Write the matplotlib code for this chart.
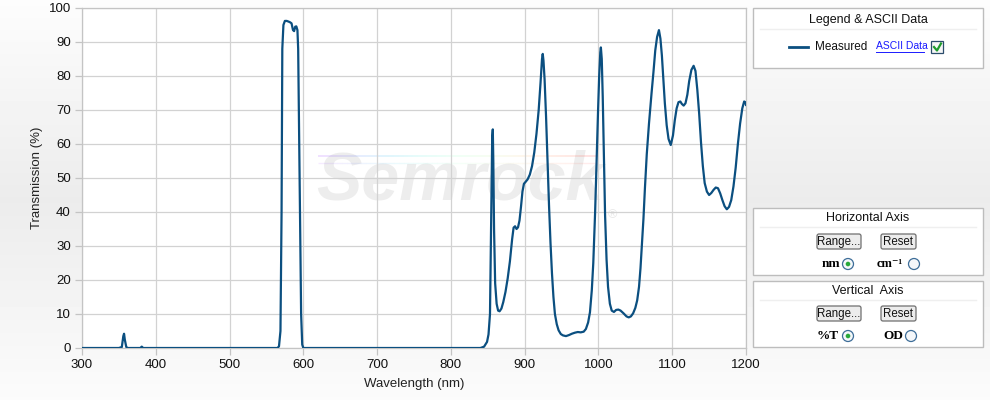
"""Semrock-style filter spectrum: measured transmission vs wavelength, with side panels."""
import numpy as np
import matplotlib
matplotlib.use("Agg")
import matplotlib.pyplot as plt
from matplotlib.patches import Rectangle, FancyBboxPatch, Circle
from matplotlib.collections import LineCollection

plt.rcParams["font.family"] = ["Liberation Sans", "DejaVu Sans"]

# measured curve
wavelength = [300, 350, 354, 356, 357, 358, 360, 362, 379, 381, 383,
              565, 567, 569, 570.5, 571.5, 573, 575, 577.5, 580, 582, 584, 586, 587.5,
              589, 590.5, 592, 593, 595, 597, 598.5, 600,
              840, 845, 849, 851, 853, 854.5, 856, 856.8, 857.5, 858.5, 860, 862, 864,
              866, 868.5, 871, 874, 877, 880, 883, 885, 887, 889, 891, 893, 895, 897,
              899, 901, 904, 907, 910, 913, 916, 919, 921.5, 923.5, 924.5, 925.5, 927,
              929, 931, 933, 935, 937, 939, 941, 943.5, 946, 949, 952, 956, 960, 964,
              968, 972, 976, 980, 983, 986, 988.5, 991, 993, 995.5, 997.5, 999.5, 1001,
              1002.5, 1003.3, 1004.5, 1005.8, 1007.5, 1009, 1011, 1013, 1015.5, 1018,
              1021, 1024, 1027, 1030, 1034, 1038, 1041, 1044, 1047, 1050, 1052.5, 1055,
              1057, 1059, 1061, 1063, 1065.5, 1068.5, 1072, 1074.5, 1077, 1079.5, 1082,
              1084, 1086, 1088, 1090, 1092.5, 1095, 1098, 1101, 1103.5, 1106, 1108.5,
              1111, 1113, 1115.5, 1118, 1120.5, 1123, 1126, 1129, 1131.5, 1134, 1136.5,
              1139, 1141.5, 1144, 1147, 1150, 1153, 1156, 1159, 1162, 1165, 1168, 1171,
              1174, 1177, 1180, 1183, 1186, 1189, 1192, 1195, 1197.5, 1199, 1200]
transmission = [0, 0, 0.3, 3.5, 4.2, 2.5, 0.3, 0, 0, 0.4, 0,
                0, 0.5, 5, 40, 88, 95, 96.2, 96.2, 96, 95.8, 95.5, 93.5, 93.2,
                94.5, 94.6, 93.5, 88, 50, 10, 1, 0,
                0, 0.4, 1.8, 4, 10, 35, 62, 64.3, 55, 35, 19, 13, 11,
                10.8, 11.6, 13.5, 16.5, 20.5, 25.5, 32, 35.4, 35.8, 35, 35.5, 37.5, 41.5, 46,
                48.3, 48.8, 49.6, 51, 53.5, 57.5, 63, 70, 78, 85, 86.5, 84.5, 79,
                68, 55, 42, 31, 22, 15, 10, 7, 5.2, 4.1, 3.7, 3.5, 3.8, 4.2,
                4.5, 4.7, 4.6, 4.8, 5.6, 7.5, 10.5, 17, 25, 40, 55, 70, 80,
                87, 88.4, 85, 74, 55, 39, 26, 18, 13, 11,
                10.6, 11.2, 11.3, 11.0, 10.2, 9.3, 9.0, 9.3, 10.2, 11.8, 14, 18,
                23.5, 30.5, 38, 47, 57, 66, 75, 81, 87.5, 91.5, 93.5,
                91, 86, 79, 72, 65.5, 61.5, 59.7, 62.5, 67, 70.5, 72.3,
                72.5, 71.8, 71.3, 72, 74.5, 78.5, 81.8, 83, 81.5, 76, 69,
                60.5, 53.5, 48.5, 46, 45, 45.6, 46.5, 47.2, 47, 45.5, 43.5, 41.7,
                40.8, 41.5, 43.5, 47.5, 53, 60, 66, 70.5, 72.5, 72.3, 71.5]

x_ticks = [300, 400, 500, 600, 700, 800, 900, 1000, 1100, 1200]
y_ticks = [0, 10, 20, 30, 40, 50, 60, 70, 80, 90, 100]

LINE = "#0b4f80"
GRID = "#d2d2d2"
W, H = 990, 400

fig = plt.figure(figsize=(9.9, 4.0), dpi=100)

# page background: soft vertical gradient
bg = fig.add_axes([0, 0, 1, 1], zorder=0)
grad = np.concatenate([np.linspace(0.99, 0.925, 200), np.linspace(0.925, 0.985, 200)])
bg.imshow(np.tile(grad[:, None], (1, 10)), cmap="gray", vmin=0, vmax=1,
          aspect="auto", extent=[0, 1, 0, 1], origin="upper")
bg.axis("off")

ax = fig.add_axes([82 / W, 1 - 348 / H, 664 / W, 340 / H], zorder=1)
ax.set_facecolor("white")
ax.set_axisbelow(True)
ax.plot(wavelength, transmission, color=LINE, lw=1.6, zorder=3, solid_joinstyle="round")
ax.set_xlim(300, 1200)
ax.set_ylim(0, 100)
ax.set_xticks(x_ticks)
ax.set_yticks(y_ticks)
ax.grid(color=GRID, lw=0.9)
for s in ax.spines.values():
    s.set_color("#c4c4c4")
    s.set_linewidth(0.9)
ax.tick_params(colors="#c4c4c4", labelcolor="#111111", labelsize=9.5, length=5, width=0.9, pad=3)
ax.set_xlabel("Wavelength (nm)", fontsize=9.5, color="#222222", labelpad=5)
ax.set_ylabel("Transmission (%)", fontsize=9.5, color="#222222", labelpad=4)

# watermark
ax.text(812, 49, "Semrock", fontsize=49, fontweight="bold", style="italic",
        color="#ededed", ha="center", va="center", zorder=0.2)
ax.text(1013, 39, "\u00ae", fontsize=9, color="#e8e8e8", ha="left", va="center", zorder=0.2)
sx = np.linspace(620, 1000, 60)
segs = [[(sx[i], 56.5), (sx[i + 1], 56.5)] for i in range(len(sx) - 1)]
ax.add_collection(LineCollection(segs, colors=plt.cm.rainbow(np.linspace(0, 1, len(segs))),
                                 linewidths=1.4, alpha=0.12, zorder=0.2))
segs2 = [[(sx[i], 54.5), (sx[i + 1], 54.5)] for i in range(len(sx) - 1)]
ax.add_collection(LineCollection(segs2, colors=plt.cm.rainbow(np.linspace(0, 1, len(segs2))),
                                 linewidths=1.0, alpha=0.08, zorder=0.2))

# right-hand control panels (pixel coordinates)
ov = fig.add_axes([0, 0, 1, 1], zorder=2)
ov.set_xlim(0, W)
ov.set_ylim(H, 0)
ov.axis("off")
ov.patch.set_alpha(0)


def panel(y0, y1, title, ty):
    ov.add_patch(Rectangle((753, y0), 230, y1 - y0, facecolor="white", edgecolor="#bdbdbd", lw=1))
    ov.plot([760, 976], [ty + 9, ty + 9], color="#efefef", lw=1)
    ov.text(868, ty, title, fontsize=9, ha="center", va="center", color="#111111")


def button(x, y, w, label):
    ov.add_patch(FancyBboxPatch((x, y), w, 15, boxstyle="round,pad=0,rounding_size=2",
                                facecolor="#ececec", edgecolor="#6e6e6e", lw=0.9))
    ov.text(x + w / 2, y + 8, label, fontsize=8.3, ha="center", va="center", color="#111111")


def radio(x, y, on):
    ov.add_patch(Circle((x, y), 5.5, facecolor="#f4f7fa", edgecolor="#3d6d98", lw=0.9))
    if on:
        ov.add_patch(Circle((x, y), 2.3, facecolor="#27a83a", edgecolor="none"))


SERIF = ["Liberation Serif", "DejaVu Serif"]

panel(8, 68, "Legend & ASCII Data", 20)
ov.plot([789, 808], [47, 47], color=LINE, lw=2)
ov.text(815, 47, "Measured", fontsize=8.5, va="center", color="#111111")
ov.text(876, 46, "ASCII Data", fontsize=7.5, va="center", color="#1a1aff")
ov.plot([876, 924], [52, 52], color="#1a1aff", lw=0.7)
ov.add_patch(Rectangle((931, 41), 12, 12, facecolor="#f7f7f7", edgecolor="#2c4d6c", lw=0.9))
ov.plot([934, 937, 941], [47, 50.5, 43.5], color="#1f9c2c", lw=1.6)

panel(208, 275, "Horizontal Axis", 218)
button(817, 234, 44, "Range...")
button(881, 234, 35, "Reset")
ov.text(822, 264, "nm", fontsize=9.5, fontweight="bold", family=SERIF, va="center")
radio(848, 264, True)
ov.text(877, 264, "cm\u207b\u00b9", fontsize=9, fontweight="bold", family=SERIF, va="center")
radio(914, 264, False)

panel(281, 347, "Vertical  Axis", 291)
button(817, 306, 44, "Range...")
button(881, 306, 35, "Reset")
ov.text(817, 336, "%T", fontsize=9.5, fontweight="bold", family=SERIF, va="center")
radio(848, 336, True)
ov.text(883, 336, "OD", fontsize=9.5, fontweight="bold", family=SERIF, va="center")
radio(911, 336, False)

fig.savefig("out.png", dpi=100)
plt.close(fig)
